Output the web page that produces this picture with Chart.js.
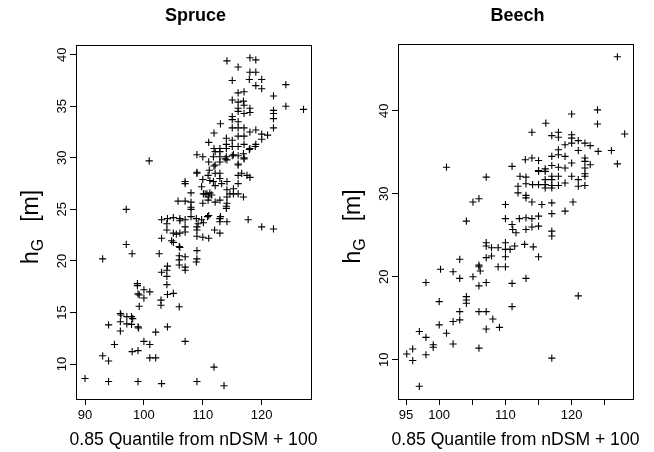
<!DOCTYPE html>
<html><head><meta charset="utf-8">
<script src="https://cdn.jsdelivr.net/npm/chart.js@4/dist/chart.umd.min.js"></script>
<style>
html,body{margin:0;padding:0;background:#fff;}
#wrap{position:relative;width:654px;height:452px;background:#fff;}
canvas{position:absolute;top:0;}
</style></head><body>
<div id="wrap">
<canvas id="c1" width="327" height="452" style="left:0;width:327px;height:452px"></canvas>
<canvas id="c2" width="327" height="452" style="left:327px;width:327px;height:452px"></canvas>
</div>
<script>
// ---- data (x = 0.85 quantile from nDSM + 100, y = hG in m) ----
const panelTitles = ["Spruce", "Beech"];
const xAxisTitle = "0.85 Quantile from nDSM + 100";
const spruceXTicks = [90, 100, 110, 120];
const spruceXLabels = ["90", "100", "110", "120"];
const spruceYTicks = [10, 15, 20, 25, 30, 35, 40];
const beechXTicks = [95, 100, 105, 110, 115, 120, 125];
const beechXLabels = ["95", "100", "", "110", "", "120", ""];
const beechYTicks = [10, 20, 30, 40];

const sprucePoints = [
[90,8.6],[93,10.8],[94,10.3],[94,8.3],[99,8.3],[103,8.1],[109,8.3],[111.9,9.7],[113.6,7.9],
[101,10.6],[102,10.6],[95,11.9],[98,11.2],[99,11.3],[100,12.2],[101,11.9],[107,12.2],
[94,13.8],[102,13.1],[104,13.6],
[96,14.9],[96.1,14.75],[97.1,14.6],[97.9,14.6],[96,14.1],[97.1,13.9],[97.9,13.85],[98.1,14.4],[96,13.2],[99,13.6],[99.1,13.5],
[102.9,16.2],[102.9,15.7],[105,16.85],[104,16.75],[106,15.55],
[98.9,17.8],[98.9,17.6],[99,16.8],[99.2,16.7],[100,17.2],[101,17.0],[100,16.4],[99.2,15.6],
[103,18.9],[103.9,18.5],[104,19.5],[103.9,19.1],[103.9,17.7],
[102.6,20.7],[93,20.2],[98,20.7],[97,21.6],[97,25.0],[100.9,29.7],
[103,22.2],[103,24.0],[104,24.1],[103.9,23.6],[103.9,23.0],
[105,24.2],[106.1,24.1],[106.1,23.9],[107,23.3],[106.1,22.7],[105,22.7],[105.5,22.6],
[105,21.8],[106,21.4],[104.7,21.95],[106.1,21.3],
[106,20.5],[106,20.1],[106,19.6],[107,19.4],[107,20.4],[107,19.1],
[109,21.0],[109,20.2],[108.9,19.9],
[109,22.4],[110,22.3],[111,22.2],
[107,24.0],[107,22.8],
[108,24.3],[108.9,24.1],[109.8,24.0],[110.8,24.3],[109.2,23.6],[110.1,23.7],[112.9,24.1],[112.9,23.8],[114.1,23.8],[113,24.3],[111,24.4],
[109,23.3],[109,23.0],[112,23.0],[112.9,22.7],
[114,25.3],[114,25.1],[117.7,24.0],[120,23.3],[122,23.1],
[105.8,25.8],[107,25.8],[108,25.7],[110,25.6],[110.9,25.9],[112.1,25.7],[112.9,25.9],[114.1,25.6],[108,25.2],[108,25.0],
[109.8,27.2],[111.2,26.6],[110.7,26.5],[110.1,26.5],[111.5,26.4],[114.1,26.9],[115.2,26.5],[114.1,26.2],[116,26.5],[108,26.6],
[107,27.7],[107,27.5],[110,27.9],[111.2,27.8],
[109,28.6],[109,28.5],
[111.1,28.8],[110.9,28.3],[112.1,28.5],[112.9,28.5],[112.9,28.0],[111.8,27.7],[112.1,27.3],[114.1,27.7],[116,28.3],
[116.6,28.5],[117.5,28.3],[118,28.1],[116,27.5],[115.2,27.0],[114.6,26.5],[116.9,26.2],
[109,30.3],[110,30.1],[112.1,30.6],[112.9,30.6],[111.8,30.1],[112.9,30.1],[112.9,29.6],[112.1,29.3],[114.1,29.8],[115.2,30.3],[116,29.3],
[111.9,30.9],[112.9,30.9],[114,30.1],[115,30.2],[116,30.2],[117,30.0],
[111,29.6],[111.9,29.2],[116,29.4],[117,29.9],
[116.9,30.4],[117.9,30.8],[118.9,31.1],[113.8,29.9],[113.2,27.5],[110.4,26.5],[111,26.2],
[114.1,39.4],[118,39.7],[119,39.5],[116,38.8],[118,38.3],[119,38.3],[117.9,37.6],[120,37.6],[115,37.5],[119,37.0],[120,36.7],[124.1,37.1],
[116,36.3],[117,36.4],[122,36.0],[115,35.6],[116,35.4],[116.9,35.5],[116,34.8],[117,35.1],[118,34.8],[118,34.4],[117,34.3],[116,34.5],
[122,34.6],[122,34.3],[122,33.8],[124.1,35.0],[127.1,34.7],[115,34.0],[115,33.7],[116,33.5],[116,32.9],[113,33.3],[115,32.9],[117,32.9],
[118,32.5],[119,32.7],[120,32.3],[121,32.2],[120,31.8],[122,32.9],[111.9,32.4],[114,31.9],[115,31.7],[116,32.1],[117,32.1],[111,31.5],
[114,31.3],[114,30.9],[115,31.1],[116,31.1],[117,31.3],[119,31.3],[118,30.9]
];

const beechPoints = [
[97,6.8],[95.1,10.7],[96,11.3],[96,9.9],[98,10.6],[98,12.7],[97,13.4],[99.1,11.8],[99.1,11.5],[100,14.2],[101.1,13.2],[102.1,11.9],
[102.1,14.6],[103.1,14.8],[103.1,15.8],[104.1,16.8],[104.1,17.2],[104.1,17.6],[100,17.0],[98,19.3],[100.2,20.9],[102.1,20.6],[103.1,19.8],
[103.1,22.1],[104.1,26.7],[105.1,20.0],[106,21.4],[106,21.2],[106.2,20.7],[106,18.9],[107.1,19.3],[106,15.8],[107.1,15.8],[106,11.4],
[107.1,13.7],[108.1,14.9],[109.1,13.9],[107.1,22.3],[107.9,22.5],[107.1,24.1],[107.1,23.7],[107.9,23.5],[108.9,23.5],[108.9,21.2],
[110,24.1],[110,23.3],[110.7,23.3],[111.4,23.7],[110,22.4],[110,21.2],[111,19.2],[111,16.4],[112.9,23.9],[114.2,23.6],[115,22.4],
[113.1,19.8],[121,17.7],[117,10.2],
[105.1,29.0],[106,29.4],[110,28.7],[110,27.0],[111,26.3],[111.1,25.7],[111.6,25.3],[112.1,27.0],[113.1,27.1],[114,27.0],[115,27.3],
[113.1,25.7],[114,26.0],[115,26.1],[114,29.0],[115.5,28.7],[117,28.9],[120.2,29.0],[117,27.6],[119,27.9],[117,25.5],[117,24.9],
[101.1,33.2],[107.1,32.0],[111,33.3],[111.9,30.9],[111.9,30.1],[112.2,32.1],[113.1,32.0],[113.1,31.2],[114.1,31.1],[115,31.1],[116,31.1],
[113.1,29.8],[113.1,29.5],[115,32.7],[116,32.7],
[120,39.6],[123.9,40.1],[123.9,38.4],[116.1,38.5],[114,37.4],[117,37.0],[118,37.4],[118,36.8],[120,37.1],[120,36.7],[121,36.4],[122,36.1],
[122.8,35.8],[124,35.1],[119,35.9],[120,36.1],[118,35.3],[121,35.2],[122,34.3],[122,33.9],[122.8,33.5],[122,33.1],[113,34.1],[114,34.3],
[115,34.0],[117,34.5],[118,34.7],[119,34.5],[120,33.7],[117,33.4],[116,33.0],[118,33.2],[119,33.1],[115,32.8],[120,32.1],[121,31.7],
[122,32.4],[122,32.1],
[126.9,46.5],[128,37.2],[126,35.2],[126.9,33.6],
[116,31.7],[117,31.7],[117,31.0],[117,32.1],[118,32.1],[118,31.0],[119,31.3],[121,30.9],[122,31.0],[117,30.7],[116,30.7]
];

const FONT = "'Liberation Sans', Arial, Helvetica, sans-serif";

function panelPlugin(title, yTicks) {
  return {
    id: 'panelDeco',
    afterDraw(chart) {
      const ctx = chart.ctx, a = chart.chartArea;
      const ys = chart.scales.y;
      ctx.save();
      // plot box
      ctx.strokeStyle = '#000'; ctx.lineWidth = 1;
      ctx.strokeRect(Math.round(a.left) + 0.5, Math.round(a.top) + 0.5,
                     Math.round(a.right - a.left), Math.round(a.bottom - a.top));
      // rotated y tick labels
      ctx.fillStyle = '#000';
      ctx.font = '13px ' + FONT;
      ctx.textAlign = 'center'; ctx.textBaseline = 'middle';
      yTicks.forEach(v => {
        const py = ys.getPixelForValue(v);
        ctx.save();
        ctx.translate(a.left - 14, py);
        ctx.rotate(-Math.PI / 2);
        ctx.fillText(String(v), 0, 0);
        ctx.restore();
      });
      // panel title
      const cx = (a.left + a.right) / 2;
      ctx.font = 'bold 18px ' + FONT;
      ctx.fillText(title, cx + 2, 16);
      // x axis title
      ctx.font = '17.6px ' + FONT;
      ctx.fillText(xAxisTitle, cx, a.bottom + 41);
      // y axis title  h_G [m]
      ctx.save();
      ctx.translate(a.left - 46, (a.top + a.bottom) / 2 + 5);
      ctx.rotate(-Math.PI / 2);
      ctx.textBaseline = 'alphabetic'; ctx.textAlign = 'left';
      const big = '23px ' + FONT, small = '16px ' + FONT;
      ctx.font = big; const wh = ctx.measureText('h').width;
      ctx.font = small; const wg = ctx.measureText('G').width;
      ctx.font = big; const gap = 17; const wm = ctx.measureText('[m]').width;
      const total = wh + wg + gap + wm;
      let x0 = -total / 2;
      ctx.font = big; ctx.fillText('h', x0, 8);
      ctx.font = small; ctx.fillText('G', x0 + wh, 13);
      ctx.font = big; ctx.fillText('[m]', x0 + wh + wg + gap, 8);
      ctx.restore();
      ctx.restore();
    }
  };
}

function makePanel(canvasId, points, cfg) {
  return new Chart(document.getElementById(canvasId), {
    type: 'scatter',
    data: {
      datasets: [{
        data: points.map(p => ({ x: p[0], y: p[1] })),
        pointStyle: 'cross',
        pointRadius: 3.6,
        pointHoverRadius: 3.6,
        borderColor: '#000',
        backgroundColor: '#000',
        borderWidth: 1.1
      }]
    },
    options: {
      responsive: false,
      animation: false,
      events: [],
      layout: { padding: { left: 0, right: cfg.padRight, top: cfg.padTop, bottom: 0 } },
      plugins: { legend: { display: false }, tooltip: { enabled: false }, title: { display: false } },
      scales: {
        x: {
          type: 'linear', min: cfg.xmin, max: cfg.xmax,
          afterBuildTicks: s => { s.ticks = cfg.xTicks.map(v => ({ value: v })); },
          afterFit: s => { s.height = cfg.xHeight; },
          border: { display: false },
          grid: { drawOnChartArea: false, drawTicks: true, tickLength: 6, color: '#000', lineWidth: 1 },
          ticks: {
            autoSkip: false, maxRotation: 0, minRotation: 0, padding: 3,
            color: '#000', font: { size: 13, family: FONT },
            callback: (v) => { const i = cfg.xTicks.indexOf(v); return i >= 0 ? cfg.xLabels[i] : ''; }
          }
        },
        y: {
          type: 'linear', min: cfg.ymin, max: cfg.ymax,
          afterBuildTicks: s => { s.ticks = cfg.yTicks.map(v => ({ value: v })); },
          afterFit: s => { s.width = cfg.yWidth; },
          border: { display: false },
          grid: { drawOnChartArea: false, drawTicks: true, tickLength: 6, color: '#000', lineWidth: 1 },
          ticks: { autoSkip: false, callback: () => '', font: { size: 13, family: FONT } }
        }
      }
    },
    plugins: [panelPlugin(cfg.title, cfg.yTicks)]
  });
}

makePanel('c1', sprucePoints, {
  title: panelTitles[0], xmin: 88.47, xmax: 128.37, ymin: 6.61, ymax: 40.94,
  xTicks: spruceXTicks, xLabels: spruceXLabels, yTicks: spruceYTicks,
  padRight: 16, padTop: 45, xHeight: 53, yWidth: 76
});
makePanel('c2', beechPoints, {
  title: panelTitles[1], xmin: 93.78, xmax: 129.26, ymin: 5.27, ymax: 48.04,
  xTicks: beechXTicks, xLabels: beechXLabels, yTicks: beechYTicks,
  padRight: 21, padTop: 44, xHeight: 53, yWidth: 71
});
</script>
</body></html>
